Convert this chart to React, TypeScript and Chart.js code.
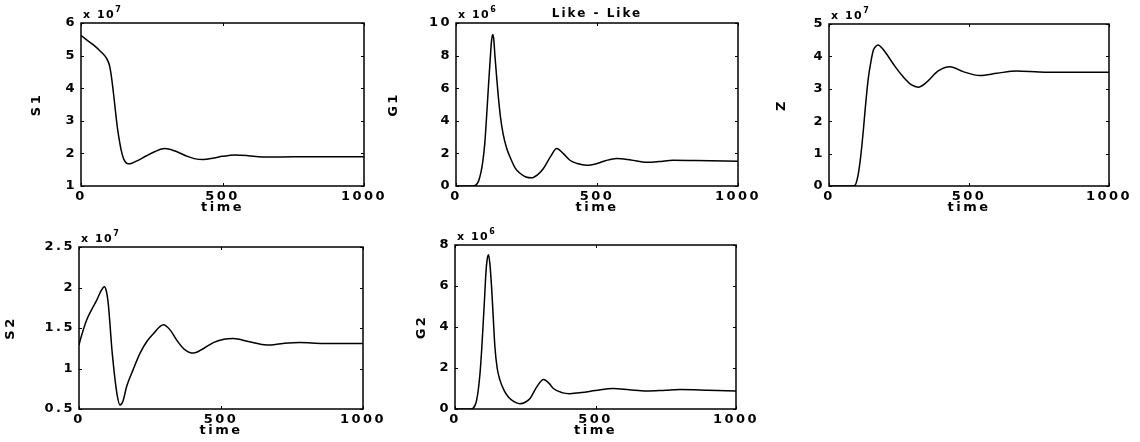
import React, { useEffect, useRef } from 'react';
import { Chart, registerables } from 'chart.js';

Chart.register(...registerables);

// ---------- data ----------
const X_TICKS = [0, 500, 1000];

const S1_TICKS = [1, 2, 3, 4, 5, 6];
const S1_T = [0, 20, 45, 70, 90, 100, 106, 112, 118, 124, 130, 136, 142, 148, 155, 166, 180, 200, 230, 260, 296, 330, 370, 400, 432, 470, 500, 544, 590, 640, 700, 800, 900, 1000];
const S1_V = [5.62, 5.48, 5.32, 5.12, 4.92, 4.72, 4.45, 4.05, 3.6, 3.12, 2.7, 2.38, 2.1, 1.9, 1.76, 1.68, 1.7, 1.78, 1.92, 2.05, 2.15, 2.08, 1.93, 1.84, 1.81, 1.86, 1.91, 1.95, 1.93, 1.89, 1.89, 1.9, 1.9, 1.9];

const G1_TICKS = [0, 2, 4, 6, 8, 10];
const G1_T = [0, 60, 70, 80, 88, 95, 102, 109, 115, 121, 126, 130, 134, 138, 144, 150, 158, 167, 180, 191, 210, 227, 248, 268, 290, 310, 335, 357, 380, 404, 430, 463, 500, 530, 569, 620, 676, 720, 770, 850, 1000];
const G1_V = [0, 0, 0.05, 0.3, 0.8, 1.5, 2.6, 4.4, 6.1, 7.7, 8.9, 9.3, 9.0, 8.0, 6.7, 5.5, 4.2, 3.2, 2.3, 1.8, 1.1, 0.78, 0.55, 0.5, 0.7, 1.07, 1.8, 2.3, 2.0, 1.58, 1.38, 1.27, 1.38, 1.55, 1.69, 1.6, 1.46, 1.5, 1.58, 1.56, 1.52];

const Z_TICKS = [0, 1, 2, 3, 4, 5];
const Z_T = [0, 85, 93, 99, 105, 111, 117, 123, 129, 135, 141, 150, 158, 166, 176, 190, 205, 235, 265, 295, 319, 348, 390, 432, 479, 539, 600, 670, 750, 850, 1000];
const Z_V = [0, 0, 0.02, 0.15, 0.39, 0.75, 1.21, 1.75, 2.35, 2.9, 3.37, 3.85, 4.18, 4.3, 4.35, 4.25, 4.08, 3.7, 3.37, 3.12, 3.05, 3.2, 3.55, 3.68, 3.53, 3.41, 3.48, 3.55, 3.52, 3.51, 3.51];

const S2_TICKS = [0.5, 1, 1.5, 2, 2.5];
const S2_T = [0, 10, 27, 45, 62, 78, 89, 96, 103, 109, 115, 121, 127, 135, 144, 155, 168, 190, 215, 240, 262, 297, 320, 344, 370, 403, 440, 473, 510, 543, 600, 661, 720, 778, 860, 1000];
const S2_V = [1.29, 1.42, 1.6, 1.73, 1.84, 1.96, 2.01, 1.96, 1.8, 1.55, 1.27, 1.05, 0.86, 0.66, 0.55, 0.6, 0.78, 0.98, 1.19, 1.34, 1.43, 1.54, 1.48, 1.35, 1.24, 1.19, 1.25, 1.32, 1.36, 1.37, 1.33, 1.29, 1.31, 1.32, 1.31, 1.31];

const G2_TICKS = [0, 2, 4, 6, 8];
const G2_T = [0, 55, 65, 72, 77, 83, 89, 95, 101, 106, 110, 114, 119, 124, 130, 136, 142, 150, 160, 175, 190, 210, 231, 250, 267, 291, 315, 335, 350, 380, 409, 450, 500, 563, 620, 681, 750, 800, 900, 1000];
const G2_V = [0, 0, 0.05, 0.2, 0.43, 0.95, 1.73, 2.9, 4.35, 5.6, 6.64, 7.25, 7.53, 7.1, 5.98, 4.5, 3.04, 2.0, 1.41, 0.9, 0.59, 0.36, 0.26, 0.33, 0.51, 1.08, 1.44, 1.25, 1.0, 0.8, 0.75, 0.8, 0.9, 1.0, 0.94, 0.88, 0.92, 0.95, 0.92, 0.88];

const X_LABEL = 'time';
const MAIN_TITLE = 'Like - Like';

// ---------- layout ----------
type PanelCfg = {
  name: string;
  exp: string;
  t: number[];
  v: number[];
  yTicks: number[];
  title?: string;
  plot: { l: number; t: number; r: number; b: number };
  titleX: number;
};

const PAD_TOP = 22;
const PAD_RIGHT = 30;
const X_H = 30;
const FONT_FAMILY = "'DejaVu Sans', sans-serif";
const TICK_FONT = { family: FONT_FAMILY, size: 13, weight: 'bold' as const };
const SPACING = '2.5px';

const PANELS: PanelCfg[] = [
  { name: 'S1', exp: '7', t: S1_T, v: S1_V, yTicks: S1_TICKS, plot: { l: 81, t: 23, r: 364, b: 186 }, titleX: 37 },
  { name: 'G1', exp: '6', t: G1_T, v: G1_V, yTicks: G1_TICKS, title: MAIN_TITLE, plot: { l: 456, t: 23, r: 738, b: 186 }, titleX: 394 },
  { name: 'Z', exp: '7', t: Z_T, v: Z_V, yTicks: Z_TICKS, plot: { l: 829, t: 24, r: 1109, b: 186 }, titleX: 782 },
  { name: 'S2', exp: '7', t: S2_T, v: S2_V, yTicks: S2_TICKS, plot: { l: 79, t: 247, r: 363, b: 409 }, titleX: 11 },
  { name: 'G2', exp: '6', t: G2_T, v: G2_V, yTicks: G2_TICKS, plot: { l: 455, t: 245, r: 736, b: 409 }, titleX: 422 },
];

function geometry(p: PanelCfg) {
  const lineH = TICK_FONT.size * 1.2;
  const canvasLeft = Math.max(0, Math.round(p.titleX - lineH / 2));
  const yW = p.plot.l - canvasLeft;
  const width = yW + (p.plot.r - p.plot.l) + PAD_RIGHT;
  const height = PAD_TOP + (p.plot.b - p.plot.t) + X_H;
  return { left: canvasLeft, top: p.plot.t - PAD_TOP, width, height, yW };
}

function Panel({ p }: { p: PanelCfg }) {
  const ref = useRef<HTMLCanvasElement | null>(null);
  const g = geometry(p);

  useEffect(() => {
    if (!ref.current) return;
    const matlab = {
      id: 'matlabBox',
      beforeDraw(chart: any) {
        chart.ctx.letterSpacing = SPACING;
      },
      afterDatasetsDraw(chart: any) {
        const ctx = chart.ctx as CanvasRenderingContext2D;
        const a = chart.chartArea;
        const xs = chart.scales.x;
        const ys = chart.scales.y;
        ctx.save();
        ctx.strokeStyle = '#000';
        ctx.lineWidth = 1.5;
        ctx.strokeRect(a.left, a.top, a.right - a.left, a.bottom - a.top);
        ctx.lineWidth = 1;
        const tl = 3;
        ctx.beginPath();
        for (const v of X_TICKS) {
          const px = Math.round(xs.getPixelForValue(v)) + 0.5;
          ctx.moveTo(px, a.bottom);
          ctx.lineTo(px, a.bottom - tl);
          ctx.moveTo(px, a.top);
          ctx.lineTo(px, a.top + tl);
        }
        for (const v of p.yTicks) {
          const py = Math.round(ys.getPixelForValue(v)) + 0.5;
          ctx.moveTo(a.left, py);
          ctx.lineTo(a.left + tl, py);
          ctx.moveTo(a.right, py);
          ctx.lineTo(a.right - tl, py);
        }
        ctx.stroke();

        // exponent label
        ctx.fillStyle = '#000';
        ctx.textAlign = 'left';
        ctx.textBaseline = 'alphabetic';
        (ctx as any).letterSpacing = '1.5px';
        ctx.font = `bold 11px ${FONT_FAMILY}`;
        const base = 'x 10';
        ctx.fillText(base, a.left + 2, a.top - 5);
        const w = ctx.measureText(base).width;
        ctx.font = `bold 8px ${FONT_FAMILY}`;
        ctx.fillText(p.exp, a.left + 2 + w, a.top - 11);

        if (p.title) {
          (ctx as any).letterSpacing = '2px';
          ctx.font = `bold 12px ${FONT_FAMILY}`;
          ctx.textAlign = 'center';
          ctx.fillText(p.title, (a.left + a.right) / 2, a.top - 6);
        }
        ctx.restore();
      },
    };

    const yMin = p.yTicks[0];
    const yMax = p.yTicks[p.yTicks.length - 1];

    const chart = new Chart(ref.current, {
      type: 'line',
      data: {
        datasets: [
          {
            data: p.t.map((t, i) => ({ x: t, y: p.v[i] })),
            borderColor: '#000',
            borderWidth: 1.5,
            pointRadius: 0,
            cubicInterpolationMode: 'monotone',
            fill: false,
          },
        ],
      },
      options: {
        animation: false,
        responsive: false,
        devicePixelRatio: 1,
        layout: { padding: { left: 0, top: PAD_TOP, right: PAD_RIGHT, bottom: 0 } },
        plugins: { legend: { display: false }, tooltip: { enabled: false } },
        scales: {
          x: {
            type: 'linear',
            min: 0,
            max: 1000,
            grid: { display: false, drawTicks: false },
            border: { display: false },
            afterBuildTicks: (s: any) => {
              s.ticks = X_TICKS.map((v) => ({ value: v }));
            },
            afterFit: (s: any) => {
              s.height = X_H;
            },
            ticks: {
              padding: 3,
              color: '#000',
              font: TICK_FONT,
              maxRotation: 0,
              autoSkip: false,
              callback: (v: any) => String(v),
            },
            title: {
              display: true,
              text: X_LABEL,
              color: '#000',
              font: TICK_FONT,
              padding: { top: 0, bottom: 1 },
            },
          },
          y: {
            type: 'linear',
            min: yMin,
            max: yMax,
            grid: { display: false, drawTicks: false },
            border: { display: false },
            afterBuildTicks: (s: any) => {
              s.ticks = p.yTicks.map((v) => ({ value: v }));
            },
            afterFit: (s: any) => {
              s.width = g.yW;
            },
            ticks: {
              padding: 4,
              color: '#000',
              font: TICK_FONT,
              autoSkip: false,
              callback: (v: any) => String(v),
            },
            title: {
              display: true,
              text: p.name,
              color: '#000',
              font: TICK_FONT,
              padding: { top: 0, bottom: 0 },
            },
          },
        },
      } as any,
      plugins: [matlab as any],
    });
    return () => chart.destroy();
  }, []);

  return (
    <canvas
      ref={ref}
      width={g.width}
      height={g.height}
      style={{ position: 'absolute', left: g.left, top: g.top, width: g.width, height: g.height }}
    />
  );
}

export default function App() {
  return (
    <div style={{ position: 'absolute', left: 0, top: 0, width: 1140, height: 442, background: '#fff', overflow: 'hidden' }}>
      {PANELS.map((p) => (
        <Panel key={p.name} p={p} />
      ))}
    </div>
  );
}
